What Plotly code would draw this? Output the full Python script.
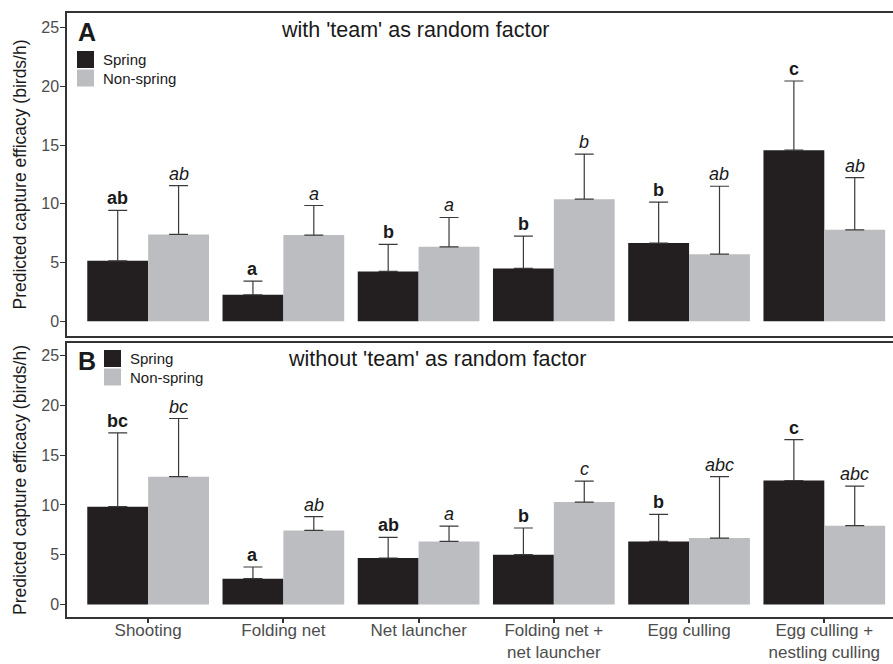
import plotly.graph_objects as go

# Capture methods (x categories)
methods = ["Shooting", "Folding net", "Net launcher",
           "Folding net +<br>net launcher", "Egg culling",
           "Egg culling +<br>nestling culling"]

# Panel A: model with 'team' as random factor
a_spring = [5.15, 2.26, 4.25, 4.50, 6.66, 14.57]
a_spring_upper = [9.44, 3.43, 6.55, 7.25, 10.14, 20.46]
a_spring_letters = ["ab", "a", "b", "b", "b", "c"]
a_nonspring = [7.40, 7.34, 6.34, 10.40, 5.72, 7.79]
a_nonspring_upper = [11.56, 9.86, 8.84, 14.23, 11.50, 12.24]
a_nonspring_letters = ["ab", "a", "a", "b", "ab", "ab"]

# Panel B: model without 'team' as random factor
b_spring = [9.82, 2.60, 4.67, 5.01, 6.34, 12.45]
b_spring_upper = [17.23, 3.77, 6.74, 7.68, 9.05, 16.56]
b_spring_letters = ["bc", "a", "ab", "b", "b", "c"]
b_nonspring = [12.83, 7.44, 6.34, 10.28, 6.67, 7.92]
b_nonspring_upper = [18.67, 8.82, 7.88, 12.38, 12.83, 11.88]
b_nonspring_letters = ["bc", "ab", "a", "c", "abc", "abc"]

SPRING_COLOR = "#231f20"
NONSPRING_COLOR = "#bcbdc0"
ERR_COLOR = "#3a3a3a"
FONT = "Liberation Sans, Arial, sans-serif"

W, H = 893, 664
ML, MR, MT, MB = 67, 0, 13, 47
PW, PH = W - ML - MR, H - MT - MB


def px(x):
    return (x - ML) / PW


def py(y):
    return (H - MB - y) / PH


fig = go.Figure()

panels = [
    ("x", "y", a_spring, a_spring_upper, a_spring_letters,
     a_nonspring, a_nonspring_upper, a_nonspring_letters),
    ("x2", "y2", b_spring, b_spring_upper, b_spring_letters,
     b_nonspring, b_nonspring_upper, b_nonspring_letters),
]

annotations = []
for xa, ya, sp, spu, spl, ns, nsu, nsl in panels:
    for name, vals, upper, color in [("Spring", sp, spu, SPRING_COLOR),
                                     ("Non-spring", ns, nsu, NONSPRING_COLOR)]:
        fig.add_trace(go.Bar(
            x=methods, y=vals, name=name, xaxis=xa, yaxis=ya,
            marker=dict(color=color, line=dict(width=0)),
            showlegend=False,
            error_y=dict(type="data", symmetric=False,
                         array=[u - v for u, v in zip(upper, vals)],
                         arrayminus=[0] * len(vals),
                         color=ERR_COLOR, thickness=1.2, width=9.5),
        ))
    for m, u, lab in zip(methods, spu, spl):
        annotations.append(dict(x=m, y=u, xref=xa, yref=ya, text=f"<b>{lab}</b>",
                                showarrow=False, yanchor="bottom", xshift=-30.4,
                                yshift=0, font=dict(size=18, color="#1a1a1a", family=FONT)))
    for m, u, lab in zip(methods, nsu, nsl):
        annotations.append(dict(x=m, y=u, xref=xa, yref=ya, text=f"<i>{lab}</i>",
                                showarrow=False, yanchor="bottom", xshift=30.4,
                                yshift=0, font=dict(size=18, color="#1a1a1a", family=FONT)))

# Panel letters and titles
annotations += [
    dict(x=px(76), y=py(32), xref="paper", yref="paper", text="<b>A</b>",
         showarrow=False, xanchor="left", yanchor="middle",
         font=dict(size=25, color="#1a1a1a", family=FONT)),
    dict(x=px(76), y=py(361), xref="paper", yref="paper", text="<b>B</b>",
         showarrow=False, xanchor="left", yanchor="middle",
         font=dict(size=25, color="#1a1a1a", family=FONT)),
    dict(x=px(279), y=py(30), xref="paper", yref="paper",
         text="with 'team' as random factor", showarrow=False,
         xanchor="left", yanchor="middle",
         font=dict(size=21.5, color="#1a1a1a", family=FONT)),
    dict(x=px(286), y=py(359), xref="paper", yref="paper",
         text="without 'team' as random factor", showarrow=False,
         xanchor="left", yanchor="middle",
         font=dict(size=21.5, color="#1a1a1a", family=FONT)),
]

# Legend keys drawn in each panel
shapes = []
legend_sets = [
    (77, 51, 101),   # panel A: key left, first key top, text left
    (104, 350, 128),  # panel B
]
for kx, ky, tx in legend_sets:
    for i, (lab, col) in enumerate([("Spring", SPRING_COLOR),
                                    ("Non-spring", NONSPRING_COLOR)]):
        top = ky + i * 18.5
        shapes.append(dict(type="rect", xref="paper", yref="paper",
                           x0=px(kx), x1=px(kx + 17), y0=py(top + 17), y1=py(top),
                           fillcolor=col, line=dict(width=0)))
        annotations.append(dict(x=px(tx), y=py(top + 8.5), xref="paper", yref="paper",
                                text=lab, showarrow=False, xanchor="left",
                                yanchor="middle",
                                font=dict(size=15, color="#1a1a1a", family=FONT)))

yaxis_common = dict(
    range=[-1.25, 26.25], tickvals=[0, 5, 10, 15, 20, 25],
    showgrid=False, zeroline=False,
    showline=True, linecolor="#333333", linewidth=1.5, mirror=False,
    ticks="outside", ticklen=5, tickcolor="#333333", tickwidth=1.2,
    tickfont=dict(size=16, color="#4d4d4d", family=FONT),
    ticklabelstandoff=-2,
    title=dict(text="Predicted capture efficacy (birds/h)",
               font=dict(size=17.5, color="#1a1a1a", family=FONT), standoff=10),
)
xaxis_common = dict(
    range=[-0.6, 5.508], showgrid=False, zeroline=False,
    showline=True, linecolor="#333333", linewidth=1.5, mirror=True,
    tickfont=dict(size=17, color="#4d4d4d", family=FONT),
)

fig.update_layout(
    width=W, height=H,
    margin=dict(l=ML, r=MR, t=MT, b=MB, autoexpand=False),
    paper_bgcolor="white", plot_bgcolor="white",
    barmode="group", bargap=0.1, bargroupgap=0,
    font=dict(family=FONT),
    xaxis=dict(**xaxis_common, anchor="y", showticklabels=False, ticks=""),
    yaxis=dict(**yaxis_common, domain=[py(336), 1.0], anchor="x"),
    xaxis2=dict(**xaxis_common, anchor="y2", ticks="outside", ticklen=4,
                tickcolor="#333333", tickwidth=1.5, ticklabelstandoff=-7),
    yaxis2=dict(**yaxis_common, domain=[0.0, py(343)], anchor="x2"),
    annotations=annotations,
    shapes=shapes,
)

fig.write_html("out.html")
